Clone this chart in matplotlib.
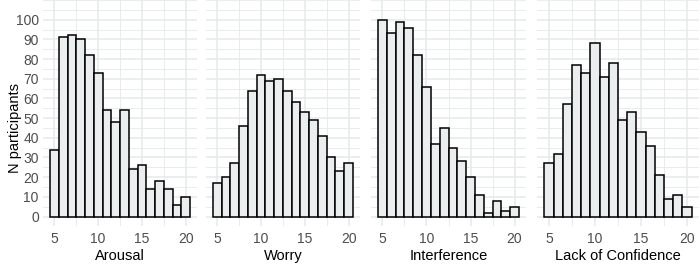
import numpy as np
import matplotlib
matplotlib.use('Agg')
from matplotlib import pyplot as plt
from matplotlib.ticker import MultipleLocator

plt.rcParams['font.family'] = ['Liberation Sans', 'DejaVu Sans']

scores = list(range(5, 21))
arousal = [34, 91, 92, 90, 82, 73, 54, 48, 54, 24, 26, 14, 18, 14, 6, 10]
worry = [17, 20, 27, 46, 64, 72, 69, 70, 64, 58, 53, 49, 41, 30, 23, 27]
interference = [100, 93, 99, 96, 82, 66, 37, 45, 35, 28, 20, 11, 2, 8, 3, 5]
confidence = [27, 32, 57, 77, 73, 88, 71, 78, 49, 53, 43, 36, 21, 9, 11, 5]

titles = ['Arousal', 'Worry', 'Interference', 'Lack of Confidence']
series = [arousal, worry, interference, confidence]

W, H = 700, 265
fig = plt.figure(figsize=(W / 100, H / 100), dpi=100)

# panel extents in pixels (left, right)
panels = [(43, 197), (206, 360), (371, 526), (537, 699)]
bottom_px = 226.4
grid_col = '#e4e9e9'

for i, (name, vals) in enumerate(zip(titles, series)):
    l, r = panels[i]
    ax = fig.add_axes([l / W, (H - bottom_px) / H, (r - l) / W, bottom_px / H])
    ax.bar(scores, vals, width=1, color='#ebeeee', edgecolor='black', linewidth=1.1, zorder=3)
    ax.set_xlim(3.7, 21.3)
    ax.set_ylim(-5, 110)
    ax.xaxis.set_major_locator(MultipleLocator(5))
    ax.xaxis.set_minor_locator(MultipleLocator(2.5))
    ax.yaxis.set_major_locator(MultipleLocator(10))
    ax.yaxis.set_minor_locator(MultipleLocator(5))
    ax.grid(which='major', color=grid_col, linewidth=1.1, zorder=0)
    ax.grid(which='minor', color=grid_col, linewidth=0.6, zorder=0)
    for s in ax.spines.values():
        s.set_visible(False)
    ax.tick_params(which='both', length=0, labelsize=10, labelcolor='#4d4d4d')
    ax.tick_params(axis='x', pad=4)
    ax.tick_params(axis='y', pad=3)
    ax.set_xlabel(name, fontsize=10.5, labelpad=2)
    ax.set_xticks([5, 10, 15, 20])
    if i == 0:
        ax.set_yticks(range(0, 101, 10))
        ax.set_ylabel('N participants', fontsize=10.5)
        ax.yaxis.set_label_coords((22 - l) / (r - l), (216.5 - 118) / bottom_px)
    else:
        ax.set_yticklabels([])

fig.savefig('out.png', dpi=100)
